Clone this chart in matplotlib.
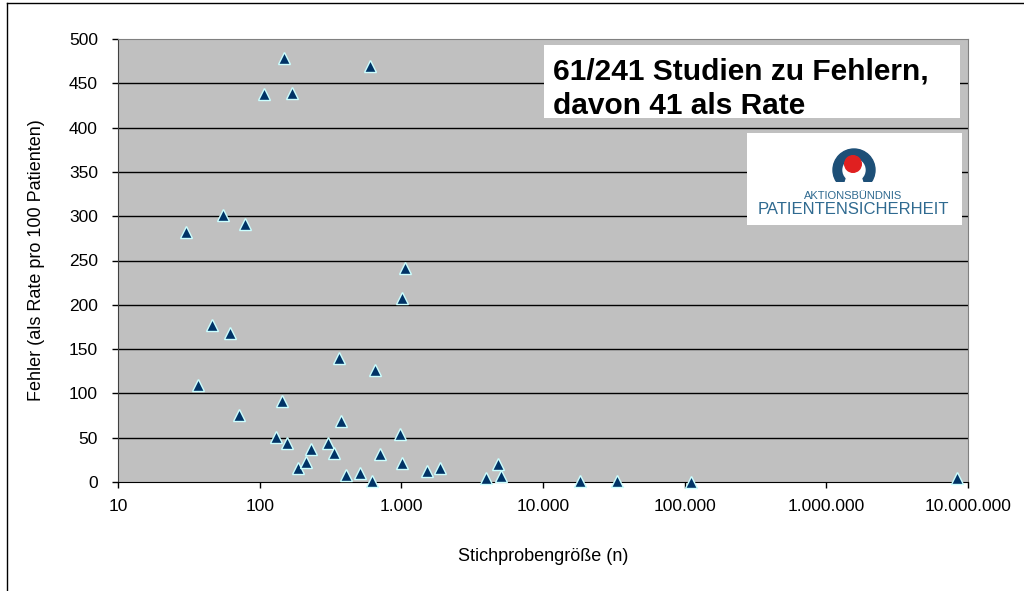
import matplotlib
matplotlib.use("Agg")
import matplotlib.pyplot as plt
from matplotlib.patches import Rectangle, Circle, Polygon
from matplotlib.lines import Line2D
from matplotlib.ticker import FuncFormatter, FixedLocator, NullLocator

# Stichprobengröße (n) und Fehlerrate pro 100 Patienten
stichprobe = [30, 37, 46, 55, 62, 71, 79, 107, 130, 144, 148, 156, 169, 186,
              212, 230, 304, 335, 363, 375, 407, 511, 600, 620, 651, 707,
              978, 1010, 1010, 1060, 1517, 1873, 3955, 4808, 5050,
              18200, 33200, 110600, 8300000]
fehler = [282, 109, 177, 301, 168, 76, 291, 438, 51, 91, 479, 44, 439, 16,
          23, 37, 44, 33, 140, 69, 8, 10, 470, 1, 126, 32,
          54, 208, 21, 242, 12, 16, 5, 20, 7,
          1, 1, 0, 5]

x_ticks = [10, 100, 1000, 10000, 100000, 1000000, 10000000]
y_ticks = list(range(0, 501, 50))

titel_zeilen = ["61/241 Studien zu Fehlern,", "davon 41 als Rate"]
x_label = "Stichprobengröße (n)"
y_label = "Fehler (als Rate pro 100 Patienten)"

plt.rcParams["font.family"] = ["Liberation Sans", "DejaVu Sans"]

W, H = 1024, 591
fig = plt.figure(figsize=(W / 100, H / 100), dpi=100)

# Rahmen des Diagramms (rechts/unten abgeschnitten)
fig.add_artist(Line2D([7 / W, 7 / W], [0, 1 - 3 / H], color="black", lw=1))
fig.add_artist(Line2D([7 / W, 1], [1 - 3 / H, 1 - 3 / H], color="black", lw=1))

ax = fig.add_axes([118 / W, 1 - 482 / H, 850 / W, 443 / H])
ax.set_facecolor("#c0c0c0")
ax.set_xscale("log")
ax.set_xlim(10, 10000000)
ax.set_ylim(0, 500)

ax.xaxis.set_major_locator(FixedLocator(x_ticks))
ax.xaxis.set_minor_locator(NullLocator())
ax.xaxis.set_major_formatter(FuncFormatter(lambda v, p: f"{int(round(v)):,}".replace(",", ".")))
ax.set_yticks(y_ticks)

for y in y_ticks[1:-1]:
    ax.axhline(y, color="black", lw=1, zorder=1)

for side in ["top", "right"]:
    ax.spines[side].set_color("#808080")
ax.spines["left"].set_color("#404040")
ax.spines["bottom"].set_color("black")

ax.tick_params(axis="both", direction="out", length=4.5, width=1, labelsize=12.5, colors="black")
ax.tick_params(axis="y", pad=10)
ax.tick_params(axis="x", pad=8)

ax.plot(stichprobe, fehler, linestyle="none", marker="^", markersize=8,
        markerfacecolor="#003366", markeredgecolor="#ccffff", markeredgewidth=1,
        clip_on=False, zorder=5)

ax.set_xlabel(x_label, fontsize=13)
ax.set_ylabel(y_label, fontsize=13)
ax.xaxis.set_label_coords(0.5, -0.149)
ax.yaxis.set_label_coords(-0.086, 0.5)

# Textkasten
fig.add_artist(Rectangle((544 / W, 1 - 118 / H), 416 / W, 73 / H,
                         transform=fig.transFigure, facecolor="white", edgecolor="none", zorder=6))
for zeile, basis in zip(titel_zeilen, [79, 114]):
    fig.text(553 / W, 1 - basis / H, zeile, fontsize=21.5, fontweight="bold",
             va="baseline", ha="left", zorder=7)

# Logo Aktionsbündnis Patientensicherheit
fig.add_artist(Rectangle((747 / W, 1 - 225 / H), 215 / W, 92 / H,
                         transform=fig.transFigure, facecolor="white", edgecolor="none", zorder=6))
lax = fig.add_axes([747 / W, 1 - 225 / H, 215 / W, 92 / H], zorder=7)
lax.set_xlim(0, 215)
lax.set_ylim(92, 0)
lax.axis("off")
cx, cy = 107, 37
clip = Rectangle((0, 0), 215, 49, transform=lax.transData)
teile = [Circle((cx, cy), 21, color="#1d4f77"),
         Circle((cx, cy), 11, color="white"),
         Polygon([(cx - 5, cy), (cx + 5, cy), (cx + 9, 50), (cx - 9, 50)], closed=True, color="white")]
for t in teile:
    lax.add_patch(t)
    t.set_clip_path(clip)
lax.add_patch(Circle((cx - 1, 31), 8.3, color="#e02020"))
lax.text(106, 63, "AKTIONSBÜNDNIS", fontsize=8, color="#2f6a90",
         ha="center", va="center")
lax.text(106, 77, "PATIENTENSICHERHEIT", fontsize=12, color="#2f6a90",
         ha="center", va="center")

fig.savefig("out.png", dpi=100)
